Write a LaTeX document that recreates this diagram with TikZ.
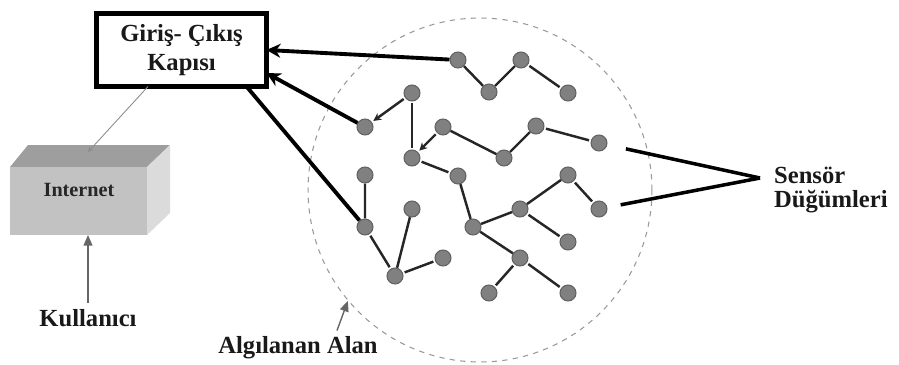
\documentclass[tikz,border=0pt]{standalone}
\usepackage{fontspec}
\setmainfont{Liberation Serif}
\usetikzlibrary{arrows.meta,positioning}

\begin{document}
\begin{tikzpicture}[
  x=0.02cm, y=-0.02cm,
  lbl/.style={font=\fontsize{14}{16.4}\selectfont\bfseries,text=black!90},
  gatebox/.style={lbl,draw,line width=2.3pt,fill=white,align=center,
                  minimum width=3.4cm,minimum height=1.46cm,outer sep=0pt},
  sensor/.style={circle,fill=black!50,draw=black!62,line width=0.6pt,
                 minimum size=0.32cm,inner sep=0pt},
  hop/.style={line width=1.4pt,black!85,shorten <=1pt,shorten >=1pt},
  hopin/.style={hop,-{Stealth[length=4.5pt,width=4.5pt]}},
  uplink/.style={line width=2.2pt,-{Stealth[length=8pt,width=8pt]}},
  callout/.style={line width=2pt},
  feed/.style={line width=0.5pt,black!45,-{Stealth[length=3pt,width=3pt]}},
  pointer/.style={line width=0.8pt,black!60,-{Triangle[length=6pt,width=5pt]}}
]
  \useasboundingbox (0,0) rectangle (899,365);

  % sensing field
  \node[draw=black!40,dashed,circle,line width=0.6pt,minimum size=6.88cm,
        inner sep=0pt] (field) at (480,190) {};

  % gateway and internet
  \node[gatebox] (gate) at (181.5,50) {Giriş- Çıkış\\Kapısı};
  \fill[black!38] (10,167) -- (147,167) -- (170,145) -- (28,145) -- cycle;
  \fill[black!14] (147,167) -- (170,145) -- (170,213) -- (147,235) -- cycle;
  \node[fill=black!24,minimum width=2.74cm,minimum height=1.36cm,
        inner sep=0pt,outer sep=0pt] (inet) at (78.5,201) {};
  \node[font=\fontsize{11.5}{13}\selectfont\bfseries,text=black!85]
        (inetlbl) at (79,190) {Internet};
  \coordinate (inettop) at (88,152);
  \draw[feed] ([xshift=-0.67cm]gate.south) -- (inettop);

  \node[lbl] (user) at (88,318) {Kullanıcı};
  \draw[pointer] (user.north) -- (user.north |- inet.south);

  % sensor nodes
  \node[sensor] (a1) at (458,60) {};
  \node[sensor] (a2) at (489,92) {};
  \node[sensor] (a3) at (521,60) {};
  \node[sensor] (a4) at (568,93) {};
  \node[sensor] (b1) at (412,93) {};
  \node[sensor] (b2) at (365,127) {};
  \node[sensor] (b3) at (443,127) {};
  \node[sensor] (b4) at (412,158) {};
  \node[sensor] (b5) at (504,158) {};
  \node[sensor] (b6) at (536,126) {};
  \node[sensor] (b7) at (599,143) {};
  \node[sensor] (c1) at (365,175) {};
  \node[sensor] (c2) at (458,176) {};
  \node[sensor] (c3) at (568,175) {};
  \node[sensor] (d1) at (365,227) {};
  \node[sensor] (d2) at (412,209) {};
  \node[sensor] (d3) at (395,276) {};
  \node[sensor] (d4) at (443,258) {};
  \node[sensor] (e1) at (473,227) {};
  \node[sensor] (e2) at (520,209) {};
  \node[sensor] (e3) at (599,209) {};
  \node[sensor] (e4) at (568,242) {};
  \node[sensor] (e5) at (520,258) {};
  \node[sensor] (e6) at (489,293) {};
  \node[sensor] (e7) at (568,293) {};

  % multi-hop links
  \draw[hop] (a1)--(a2)--(a3)--(a4);
  \draw[hopin] (b1)--(b2);
  \draw[hop] (b1)--(b4);
  \draw[hopin] (b3)--(b4);
  \draw[hop] (b3)--(b5)--(b6)--(b7);
  \draw[hop] (b4)--(c2);
  \draw[hop] (c1)--(d1)--(d3);
  \draw[hop] (d2)--(d3)--(d4);
  \draw[hop] (c2)--(e1)--(e2)--(c3)--(e3);
  \draw[hop] (e2)--(e4);
  \draw[hop] (e1)--(e5)--(e6);
  \draw[hop] (e5)--(e7);

  % links to the gateway
  \draw[uplink] (a1)--(gate.east);
  \draw[uplink] (b2)--([yshift=-0.46cm]gate.east);
  \draw[line width=2.2pt] (d1)--([xshift=1.3cm]gate.south);

  % labels
  \node[font=\fontsize{14}{13.6}\selectfont\bfseries,text=black!90,
        align=left,anchor=west] (sens) at (768,190) {Sensör\\Düğümleri};
  \coordinate (meet) at (760,178);
  \draw[callout,shorten <=0.38cm] (b7)--(meet);
  \draw[callout,shorten <=0.27cm] (e3)--(meet);

  \node[lbl] (area) at (298,348) {Algılanan Alan};
  \draw[pointer] ([xshift=0.78cm]area.north)--(field.220);
\end{tikzpicture}
\end{document}
